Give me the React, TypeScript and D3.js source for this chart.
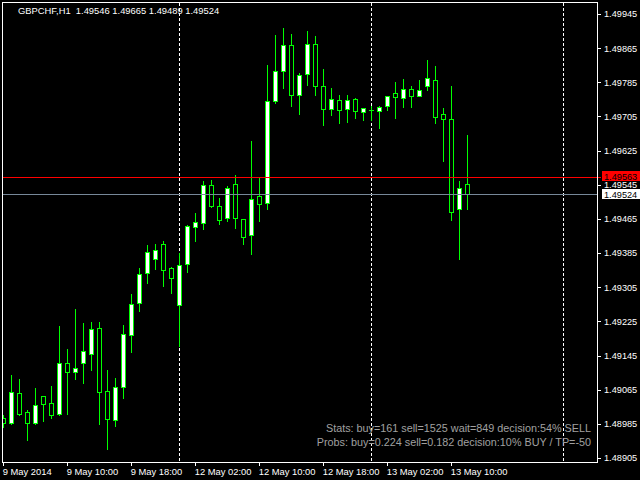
import React from "react";
import * as d3 from "d3";

const symbolTitle = "GBPCHF,H1  1.49546 1.49665 1.49489 1.49524";

const opens = [1.48998,1.48988,1.49057,1.49012,1.48988,1.49050,1.49033,1.49009,1.49127,1.49107,
1.49128,1.49149,1.49209,1.49062,1.48995,1.49072,1.49192,1.49267,1.49338,1.49370,
1.49406,1.49349,1.49264,1.49359,1.49445,1.49455,1.49544,1.49495,1.49466,1.49546,
1.49464,1.49428,1.49518,1.49502,1.49741,1.49811,1.49872,1.49755,1.49804,1.49874,
1.49776,1.49722,1.49743,1.49722,1.49745,1.49715,1.49721,1.49717,1.49729,1.49759,
1.49748,1.49769,1.49752,1.49776,1.49790,1.49710,1.49698,1.49488,1.49546];
const highs = [1.49007,1.49102,1.49092,1.49019,1.49071,1.49051,1.49076,1.49217,1.49162,1.49256,
1.49224,1.49226,1.49226,1.49113,1.49094,1.49219,1.49292,1.49352,1.49406,1.49409,
1.49416,1.49355,1.49388,1.49453,1.49481,1.49556,1.49559,1.49516,1.49545,1.49570,
1.49467,1.49650,1.49563,1.49828,1.49898,1.49915,1.49900,1.49809,1.49907,1.49896,
1.49819,1.49773,1.49758,1.49758,1.49750,1.49726,1.49733,1.49731,1.49752,1.49788,
1.49794,1.49778,1.49792,1.49840,1.49826,1.49726,1.49778,1.49556,1.49665];
const lows = [1.48977,1.48985,1.49006,1.48947,1.48984,1.48992,1.48999,1.49006,1.49009,1.49090,
1.49081,1.49111,1.48985,1.48927,1.48980,1.49046,1.49154,1.49250,1.49316,1.49348,
1.49309,1.49292,1.49167,1.49341,1.49414,1.49442,1.49494,1.49454,1.49461,1.49444,
1.49407,1.49384,1.49459,1.49489,1.49737,1.49772,1.49730,1.49711,1.49779,1.49756,
1.49686,1.49708,1.49690,1.49693,1.49702,1.49697,1.49697,1.49679,1.49721,1.49702,
1.49726,1.49726,1.49752,1.49766,1.49690,1.49601,1.49463,1.49370,1.49489];
const closes = [1.48988,1.49059,1.49008,1.48988,1.49028,1.49032,1.49006,1.49127,1.49107,1.49115,
1.49155,1.49206,1.49060,1.48997,1.49071,1.49195,1.49265,1.49335,1.49387,1.49392,
1.49345,1.49326,1.49356,1.49448,1.49457,1.49544,1.49496,1.49463,1.49537,1.49466,
1.49422,1.49511,1.49501,1.49741,1.49811,1.49872,1.49756,1.49801,1.49874,1.49777,
1.49723,1.49745,1.49719,1.49743,1.49717,1.49724,1.49721,1.49726,1.49752,1.49750,
1.49769,1.49752,1.49766,1.49794,1.49703,1.49698,1.49481,1.49537,1.49524];

const priceTicks = [1.49945,1.49865,1.49785,1.49705,1.49625,1.49545,1.49465,1.49385,1.49305,1.49225,1.49145,1.49065,1.48985,1.48905];
const timeTickBars = [0, 8, 16, 24, 32, 40, 48, 56];
const timeTickLabels = ["9 May 2014","9 May 10:00","9 May 18:00","12 May 02:00","12 May 10:00","12 May 18:00","13 May 02:00","13 May 10:00"];
const daySeparatorBars = [22, 46, 70];
const redLinePrice = 1.49563;
const bidPrice = 1.49524;
const statsLines = [
  "Stats: buy=161 sell=1525 wait=849 decision:54% SELL",
  "Probs: buy=0.224 sell=0.182 decision:10% BUY / TP=-50",
];

const FONT = "'Liberation Sans', Arial, sans-serif";
const LIME = "#00ff00";

export default function App() {
  const y = d3.scaleLinear().domain([1.48905, 1.49945]).range([458, 14]);
  const x = d3.scaleLinear().domain([0, 58]).range([3.5, 467.5]);
  const py = (p: number) => Math.round(y(p)) + 0.5;
  const left = 2.5, top = 2.5, right = 597.5, bottom = 462.5;

  return (
    <svg width={640} height={480} style={{ position: "absolute", left: 0, top: 0, background: "#000" }}>
      <defs>
        <clipPath id="plot">
          <rect x={3} y={3} width={594} height={459} />
        </clipPath>
      </defs>
      <rect x={0} y={0} width={640} height={480} fill="#000" />
      <g clipPath="url(#plot)" shapeRendering="crispEdges">
        {daySeparatorBars.map((b, i) => (
          <line key={"s" + i} x1={x(b)} x2={x(b)} y1={top} y2={bottom} stroke="#fff" strokeDasharray="3,2" />
        ))}
        {opens.map((o, i) => {
          const c = closes[i];
          const cx = x(i);
          const yo = py(o), yc = py(c);
          const bull = c > o;
          const y0 = Math.min(yo, yc), y1 = Math.max(yo, yc);
          return (
            <g key={"c" + i}>
              <line x1={cx} x2={cx} y1={py(highs[i])} y2={py(lows[i])} stroke={LIME} />
              {y1 - y0 < 1 ? (
                <line x1={cx - 2.5} x2={cx + 2.5} y1={y0} y2={y0} stroke={LIME} />
              ) : (
                <rect x={cx - 2} y={y0} width={4} height={y1 - y0} fill={bull ? "#fff" : "#000"} stroke={LIME} />
              )}
            </g>
          );
        })}
      </g>
      <g shapeRendering="crispEdges">
        <rect x={3} y={Math.round(y(redLinePrice))} width={598} height={1} fill="#ff0000" />
        <rect x={3} y={Math.round(y(bidPrice))} width={594} height={1} fill="#778899" />
        <rect x={left} y={top} width={right - left} height={bottom - top} fill="none" stroke="#fff" />
        {priceTicks.map((p, i) => (
          <line key={"pt" + i} x1={597} x2={601} y1={py(p)} y2={py(p)} stroke="#fff" />
        ))}
        {timeTickBars.map((b, i) => (
          <line key={"tt" + i} x1={x(b)} x2={x(b)} y1={462} y2={466} stroke="#fff" />
        ))}
      </g>
      <text x={18} y={14} fill="#fff" fontFamily={FONT} fontSize={9.4} style={{ whiteSpace: "pre" }}>{symbolTitle}</text>
      {priceTicks.map((p, i) => (
        <text key={"p" + i} x={604} y={y(p) + 3.4} fill="#fff" fontFamily={FONT} fontSize={9.2}>{p.toFixed(5)}</text>
      ))}
      <rect x={602} y={171} width={38} height={10} fill="#ff0000" />
      <text x={604} y={179.5} fill="#000" fontFamily={FONT} fontSize={9.2}>{redLinePrice.toFixed(5)}</text>
      <rect x={602} y={189} width={38} height={10} fill="#fff" />
      <text x={604} y={197.5} fill="#000" fontFamily={FONT} fontSize={9.2}>{bidPrice.toFixed(5)}</text>
      {timeTickBars.map((b, i) => (
        <text key={"t" + i} x={x(b) - 0.8} y={475} fill="#fff" fontFamily={FONT} fontSize={9.4}>{timeTickLabels[i]}</text>
      ))}
      {statsLines.map((s, i) => (
        <text key={"st" + i} x={591} y={432.3 + i * 13.7} textAnchor="end" fill="#a0a0a0" fontFamily={FONT} fontSize={10.8}>{s}</text>
      ))}
    </svg>
  );
}
